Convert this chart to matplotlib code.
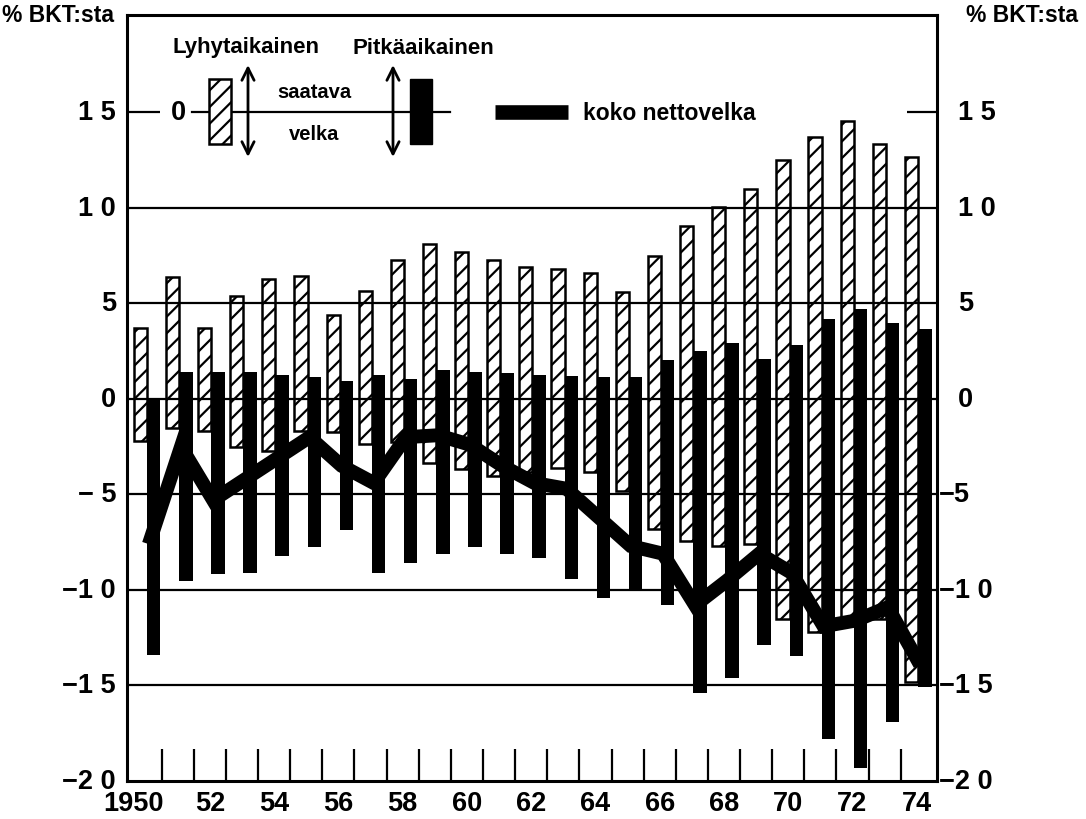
import numpy as np
import matplotlib
matplotlib.use("Agg")
import matplotlib.pyplot as plt
from matplotlib.patches import Rectangle
from matplotlib.transforms import blended_transform_factory

# Vuodet ja arvot (% BKT:sta), luettu kuvasta
years = list(range(1950, 1975))
# lyhytaikainen saatava / velka
short_recv = [3.7, 6.4, 3.7, 5.4, 6.3, 6.45, 4.4, 5.65, 7.3, 8.1, 7.7, 7.3, 6.9,
              6.8, 6.6, 5.6, 7.5, 9.05, 10.05, 11.0, 12.5, 13.7, 14.55, 13.35, 12.65]
short_debt = [-2.2, -1.5, -1.7, -2.5, -2.7, -1.7, -1.75, -2.35, -2.25, -3.35, -3.65,
              -4.05, -3.85, -3.6, -3.85, -4.8, -6.8, -7.45, -7.7, -7.6, -11.5, -12.2,
              -11.7, -11.5, -14.8]
# pitkäaikainen saatava / velka
long_recv = [0.0, 1.43, 1.4, 1.4, 1.26, 1.14, 0.96, 1.27, 1.05, 1.54, 1.4, 1.34, 1.28,
             1.22, 1.17, 1.17, 2.04, 2.53, 2.93, 2.1, 2.85, 4.16, 4.7, 3.98, 3.67]
long_debt = [-13.4, -9.55, -9.15, -9.1, -8.2, -7.75, -6.85, -9.1, -8.6, -8.1, -7.75,
             -8.1, -8.3, -9.4, -10.4, -10.05, -10.8, -15.4, -14.6, -12.9, -13.45,
             -17.8, -19.3, -16.9, -15.1]
# koko nettovelka
net_debt = [-7.6, -2.5, -5.3, -4.2, -3.1, -2.0, -3.5, -4.4, -2.0, -1.9, -2.4, -3.5,
            -4.4, -4.7, -6.2, -7.7, -8.1, -10.8, -9.5, -8.1, -9.1, -11.9, -11.6,
            -10.9, -13.9]

left_labels = ["−2 0", "−1 5", "−1 0", "− 5", "0", "5", "1 0", "1 5"]
right_labels = ["−2 0", "−1 5", "−1 0", "−5", "0", "5", "1 0", "1 5"]
label_vals = [-20, -15, -10, -5, 0, 5, 10, 15]
x_label_years = list(range(1950, 1975, 2))

W, H = 1086, 820


def fx(x):
    return x / W


def fy(y):
    return 1 - y / H


plt.rcParams['font.family'] = ['Liberation Sans', 'DejaVu Sans']
plt.rcParams['font.weight'] = 'bold'
plt.rcParams['hatch.linewidth'] = 1.6

fig = plt.figure(figsize=(10.86, 8.2), dpi=100)
ax = fig.add_axes([fx(127), fy(782), fx(937) - fx(127), fy(16) - fy(782)])
x0, x1 = 1949.42, 1974.63
ax.set_xlim(x0, x1)
ax.set_ylim(-20, 20.1)
ax.set_xticks([])
ax.set_yticks([])
for s in ax.spines.values():
    s.set_linewidth(2.2)

yr = np.array(years)
sr, sd = np.array(short_recv), np.array(short_debt)
lr, ld = np.array(long_recv), np.array(long_debt)

# vaakaviivat
for g in [10, 5, 0, -5, -10, -15]:
    ax.axhline(g, color='black', lw=1.6, zorder=2)
ax.hlines(15, x0, 1950.45, color='black', lw=1.6, zorder=2)
ax.hlines(15, 1973.7, x1, color='black', lw=1.6, zorder=2)

# pylväät
ax.bar(yr - 0.37, sr - sd, bottom=sd, width=0.41, align='edge',
       facecolor='white', edgecolor='black', hatch='//', lw=1.8, zorder=1)
ax.bar(yr + 0.04, lr - ld, bottom=ld, width=0.42, align='edge',
       color='black', lw=0, zorder=3)

# nettovelka
ax.plot(yr + 0.1, net_debt, color='black', lw=10, solid_joinstyle='miter',
        solid_capstyle='butt', zorder=4)

# vuosirajat alareunassa
ax.vlines(yr[:-1] + 0.5, -20, -18.3, color='black', lw=1.6)

# akselitekstit
tl = blended_transform_factory(fig.transFigure, ax.transData)
for v, lab in zip(label_vals, left_labels):
    ax.text(fx(116), v, lab, transform=tl, ha='right', va='center', fontsize=19.5)
for v, lab in zip(label_vals, right_labels):
    xpos = 939 if lab.startswith('−') else 958
    ax.text(fx(xpos), v, lab, transform=tl, ha='left', va='center', fontsize=19.5)

tx = blended_transform_factory(ax.transData, fig.transFigure)
for y in x_label_years:
    if y == 1950:
        ax.text(y + 0.55, fy(804), "1950", transform=tx, ha='right', va='center',
                fontsize=19.5)
    else:
        ax.text(y, fy(804), str(y)[2:], transform=tx, ha='center', va='center',
                fontsize=19.5)

fig.text(fx(2), fy(15), "% BKT:sta", ha='left', va='center', fontsize=16.5)
fig.text(fx(966), fy(15), "% BKT:sta", ha='left', va='center', fontsize=16.5)

# selite
fig.text(fx(246), fy(48), "Lyhytaikainen", ha='center', va='center', fontsize=16)
fig.text(fx(423), fy(48), "Pitkäaikainen", ha='center', va='center', fontsize=16)
fig.text(fx(178), fy(113), "0", ha='center', va='center', fontsize=19.5)
fig.add_artist(plt.Line2D([fx(192), fx(450)], [fy(113), fy(113)], color='black',
                          lw=1.6, transform=fig.transFigure))
fig.add_artist(Rectangle((fx(209), fy(145)), fx(231) - fx(209), fy(80) - fy(145),
                         facecolor='white', edgecolor='black', hatch='//', lw=1.8,
                         transform=fig.transFigure, zorder=5))
fig.add_artist(Rectangle((fx(410), fy(145)), fx(432) - fx(410), fy(80) - fy(145),
                         facecolor='black', edgecolor='black', lw=1,
                         transform=fig.transFigure, zorder=5))
for xa in [248, 393]:
    ax.annotate('', xy=(fx(xa), fy(66)), xytext=(fx(xa), fy(158)),
                xycoords='figure fraction', textcoords='figure fraction',
                arrowprops=dict(arrowstyle='<->', lw=2, color='black',
                                mutation_scale=22, shrinkA=0, shrinkB=0))
fig.text(fx(314), fy(93), "saatava", ha='center', va='center', fontsize=14.5)
fig.text(fx(314), fy(134), "velka", ha='center', va='center', fontsize=14.5)
fig.add_artist(plt.Line2D([fx(495), fx(568)], [fy(113), fy(113)], color='black',
                          lw=10.5, solid_capstyle='butt', transform=fig.transFigure))
fig.text(fx(583), fy(113), "koko nettovelka", ha='left', va='center', fontsize=16.5)

fig.savefig("out.png", dpi=100)
